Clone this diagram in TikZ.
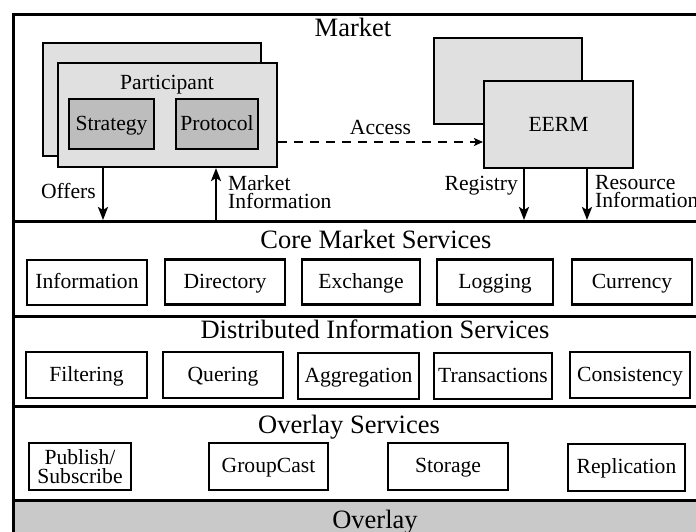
\documentclass[tikz,border=0pt]{standalone}
\usepackage{fontspec}
\setmainfont{Liberation Serif}
\usetikzlibrary{arrows.meta}
\definecolor{paleGray}{gray}{0.88}
\definecolor{midGray}{gray}{0.74}
\definecolor{bandGray}{gray}{0.79}
\newcommand{\lblfont}{\fontsize{21.6}{18}\selectfont}
\begin{document}
\begin{tikzpicture}[x=1pt,y=-1pt,
  layertitle/.style={font=\fontsize{26.5}{28}\selectfont, inner sep=0, anchor=base},
  flowlabel/.style={font=\lblfont, inner sep=0, align=left},
  svc/.style={draw, line width=2.1pt, fill=white, inner sep=0,
    font=\lblfont, text height=15pt, text depth=3pt},
  actor/.style={draw, line width=2.1pt, fill=paleGray, inner sep=0},
  part/.style={draw, line width=2.1pt, fill=midGray, inner sep=0,
    font=\lblfont, text height=15pt, text depth=3pt},
  sep/.style={line width=3pt},
  flow/.style={line width=2.4pt, -{Stealth[length=13pt,width=10pt,inset=3pt]}},
  access/.style={line width=2pt, dash pattern=on 9pt off 7pt,
    -{Stealth[length=9pt,width=8pt,inset=2pt]}}
]
\useasboundingbox (0,0) rectangle (696,531);
\clip (0,0) rectangle (696,531);

% overlay band at the bottom
\fill[bandGray] (13,500) rectangle (740,560);

% outer frame and layer separators
\draw[sep] (13,14) rectangle (740,560);
\draw[sep] (13,221) -- (740,221);
\draw[sep] (13,316) -- (740,316);
\draw[sep] (13,406) -- (740,406);
\draw[sep] (13,500) -- (740,500);

% layer titles
\node[layertitle] (tMarket)  at (353,36)  {Market};
\node[layertitle] (tCore)    at (376,248) {Core Market Services};
\node[layertitle] (tDist)    at (375,338) {Distributed Information Services};
\node[layertitle] (tOvSvc)   at (349,433) {Overlay Services};
\node[layertitle] (tOverlay) at (375,528) {Overlay};

% participant (stacked)
\node[actor, minimum width=218, minimum height=113] (partBack) at (152,99.5) {};
\node[actor, minimum width=219, minimum height=104] (partFront) at (167.5,115) {};
\node[font=\lblfont, inner sep=0, anchor=base] (partName) at (167,89) {Participant};
\node[part, minimum width=85, minimum height=50] (strategy) at (111.5,124) {Strategy};
\node[part, minimum width=82, minimum height=50] (protocol) at (217,124) {Protocol};

% EERM (stacked)
\node[actor, minimum width=148, minimum height=86] (eermBack) at (508,81) {};
\node[actor, minimum width=149, minimum height=87, font=\lblfont] (eerm) at (558.5,124.5) {EERM};

% access relation
\draw[access] (partFront.east |- 0,142) -- (eerm.west |- 0,142)
  node[midway, above=6pt, font=\lblfont, inner sep=0] (accessLbl) {Access};

% arrow end points on the market boundary
\coordinate (offersEnd) at (103,220);
\coordinate (infoStart) at (216,221);
\coordinate (regEnd)    at (524,220);
\coordinate (resEnd)    at (587,220);

\draw[flow] (partFront.south -| offersEnd) -- (offersEnd);
\draw[flow] (infoStart) -- (partFront.south -| infoStart);
\draw[flow] (eerm.south -| regEnd) -- (regEnd);
\draw[flow] (eerm.south -| resEnd) -- (resEnd);

\node[flowlabel, anchor=east] (offersLbl) at (96,191) {Offers};
\node[flowlabel, anchor=west] (infoLbl) at (228,192) {Market\\Information};
\node[flowlabel, anchor=east] (regLbl) at (518,186) {Registry};
\node[flowlabel, anchor=west] (resLbl) at (595,192) {Resource\\Information};

% core market services
\node[svc, minimum width=120, minimum height=45] (cInfo)  at (87,282.5)  {Information};
\node[svc, minimum width=120, minimum height=45] (cDir)   at (225,282)   {Directory};
\node[svc, minimum width=118, minimum height=45] (cExch)  at (361,282)   {Exchange};
\node[svc, minimum width=116, minimum height=45] (cLog)   at (495,282)   {Logging};
\node[svc, minimum width=120, minimum height=45] (cCur)   at (632,282)   {Currency};

% distributed information services
\node[svc, minimum width=121, minimum height=46] (dFilt)  at (86.5,375)  {Filtering};
\node[svc, minimum width=120, minimum height=46] (dQuer)  at (223,375)   {Quering};
\node[svc, minimum width=121, minimum height=46] (dAggr)  at (358.5,376) {Aggregation};
\node[svc, minimum width=118, minimum height=46] (dTrans) at (493,376)   {Transactions};
\node[svc, minimum width=120, minimum height=46] (dCons)  at (630,375)   {Consistency};

% overlay services
\node[draw, line width=2.1pt, fill=white, inner sep=0, minimum width=102, minimum height=47,
  align=center, font=\fontsize{21.6}{18.5}\selectfont] (oPub) at (80,466.5) {Publish/\\Subscribe};
\node[svc, minimum width=119, minimum height=47] (oGroup) at (268.5,466.5) {GroupCast};
\node[svc, minimum width=120, minimum height=47] (oStore) at (448,466.5)   {Storage};
\node[svc, minimum width=117, minimum height=47] (oRepl)  at (626.5,467.5) {Replication};
\end{tikzpicture}
\end{document}
